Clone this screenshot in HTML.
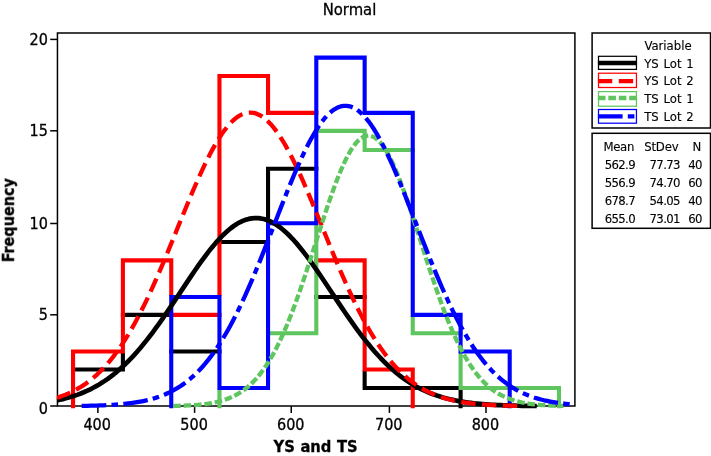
<!DOCTYPE html>
<html lang="en"><head><meta charset="utf-8"><title>Histogram of YS and TS - Normal</title>
<style>html,body{margin:0;padding:0;background:#fff;overflow:hidden}svg{display:block;will-change:transform}text{font-family:"DejaVu Sans Condensed", "DejaVu Sans", "Liberation Sans", sans-serif;font-stretch:condensed;fill:#000;stroke:#000;stroke-width:0.3px;}.l text{stroke-width:0.12px}</style>
</head><body>
<svg width="711" height="456" viewBox="0 0 711 456">
<rect x="0" y="0" width="711" height="456" fill="#ffffff"/>
<filter id="b" x="0" y="0" width="711" height="456" filterUnits="userSpaceOnUse"><feGaussianBlur stdDeviation="0.4"/></filter>
<g filter="url(#b)">
<g stroke="#000000" stroke-width="1.5" fill="none">
<rect x="57.45" y="33" width="517.45" height="373"/>
<line x1="50.2" x2="57.45" y1="406" y2="406"/>
<line x1="50.2" x2="57.45" y1="314.8" y2="314.8"/>
<line x1="50.2" x2="57.45" y1="223.5" y2="223.5"/>
<line x1="50.2" x2="57.45" y1="130.8" y2="130.8"/>
<line x1="50.2" x2="57.45" y1="39.4" y2="39.4"/>
<line x1="97.87" x2="97.87" y1="406" y2="412.9"/>
<line x1="194.6" x2="194.6" y1="406" y2="412.9"/>
<line x1="291.25" x2="291.25" y1="406" y2="412.9"/>
<line x1="389.4" x2="389.4" y1="406" y2="412.9"/>
<line x1="486" x2="486" y1="406" y2="412.9"/>
</g>
<g fill="none" stroke-width="4.1">
<path d="M71 369.5H124.95M122.9 352.55V371.55M120.85 314.9H170.2M169.2 351.5H221.5M217.4 242H270.1M268.05 166.65V222.25M266 168.7H318.35M314.25 297H366.7M364.65 370.55V390.1M362.6 388.05H414.8M410.7 388.05H459.55M460.6 389.1V408.25" stroke="#000000"/>
<path d="M73.05 349.45V408.25M71 351.5H124.95M122.9 258.35V353.55M120.85 260.4H173.3M171.25 258.35V295.95M169.2 314.9H221.5M219.45 73.95V295.95M217.4 76H270.1M268.05 73.95V114.95M266 112.9H318.35M314.25 260.4H366.7M364.65 258.35V371.55M362.6 369.5H414.8M412.75 367.45V408.25" stroke="#ff0000"/>
<path d="M219.45 389.1V408.25M266 333.3H318.35M316.3 224.35V335.35M314.25 130.9H366.7M364.65 128.85V152.05M362.6 150H414.8M412.75 315.95V335.35M410.7 333.3H462.65M460.6 352.55V390.1M458.55 388.05H511.75M507.65 388.05H561.05M559 386V408.25" stroke="#5ec55e"/>
<path d="M171.25 294.95V408.25M169.2 297H221.5M219.45 294.95V390.1M217.4 388.05H270.1M268.05 221.25V390.1M266 223.3H318.35M316.3 55.55V225.35M314.25 57.6H366.7M364.65 55.55V114.95M362.6 112.9H414.8M412.75 110.85V316.95M410.7 314.9H462.65M460.6 312.85V353.55M458.55 351.5H511.75M509.7 349.45V408.25" stroke="#0000ff"/>
</g>
<clipPath id="c"><rect x="56.75" y="33" width="518.15" height="376"/></clipPath>
<g fill="none" stroke-width="4.3" stroke-linejoin="round" clip-path="url(#c)">
<path d="M56.75 400.41 L59.75 399.78 L62.75 399.09 L65.75 398.33 L68.75 397.51 L71.75 396.62 L74.75 395.65 L77.75 394.6 L80.75 393.47 L83.75 392.25 L86.75 390.94 L89.75 389.53 L92.75 388.02 L95.75 386.41 L98.75 384.68 L101.75 382.84 L104.75 380.89 L107.75 378.81 L110.75 376.61 L113.75 374.29 L116.75 371.83 L119.75 369.25 L122.75 366.53 L125.75 363.69 L128.75 360.71 L131.75 357.59 L134.75 354.35 L137.75 350.98 L140.75 347.48 L143.75 343.86 L146.75 340.11 L149.75 336.26 L152.75 332.3 L155.75 328.23 L158.75 324.07 L161.75 319.83 L164.75 315.51 L167.75 311.12 L170.75 306.68 L173.75 302.2 L176.75 297.68 L179.75 293.15 L182.75 288.62 L185.75 284.1 L188.75 279.6 L191.75 275.14 L194.75 270.74 L197.75 266.42 L200.75 262.18 L203.75 258.05 L206.75 254.05 L209.75 250.18 L212.75 246.46 L215.75 242.92 L218.75 239.56 L221.75 236.4 L224.75 233.45 L227.75 230.72 L230.75 228.24 L233.75 226.01 L236.75 224.03 L239.75 222.33 L242.75 220.9 L245.75 219.75 L248.75 218.9 L251.75 218.34 L254.75 218.07 L257.75 218.1 L260.75 218.43 L263.75 219.05 L266.75 219.96 L269.75 221.17 L272.75 222.65 L275.75 224.41 L278.75 226.44 L281.75 228.72 L284.75 231.26 L287.75 234.03 L290.75 237.02 L293.75 240.22 L296.75 243.62 L299.75 247.2 L302.75 250.95 L305.75 254.85 L308.75 258.88 L311.75 263.03 L314.75 267.29 L317.75 271.63 L320.75 276.04 L323.75 280.51 L326.75 285.01 L329.74 289.54 L332.74 294.07 L335.74 298.6 L338.74 303.11 L341.74 307.59 L344.74 312.02 L347.74 316.39 L350.74 320.69 L353.74 324.92 L356.74 329.06 L359.74 333.11 L362.74 337.05 L365.74 340.88 L368.74 344.6 L371.74 348.2 L374.74 351.67 L377.74 355.02 L380.74 358.24 L383.74 361.32 L386.74 364.28 L389.74 367.1 L392.74 369.78 L395.74 372.34 L398.74 374.77 L401.74 377.07 L404.74 379.24 L407.74 381.29 L410.74 383.23 L413.74 385.04 L416.74 386.74 L419.74 388.34 L422.74 389.83 L425.74 391.21 L428.74 392.51 L431.74 393.71 L434.74 394.82 L437.74 395.85 L440.74 396.8 L443.74 397.68 L446.74 398.49 L449.74 399.23 L452.74 399.91 L455.74 400.54 L458.74 401.11 L461.74 401.63 L464.74 402.1 L467.74 402.53 L470.74 402.92 L473.74 403.27 L476.74 403.59 L479.74 403.88 L482.74 404.14 L485.74 404.37 L488.74 404.58 L491.74 404.77 L494.74 404.94 L497.74 405.09 L500.74 405.22 L503.74 405.34 L506.74 405.45 L509.74 405.54 L512.74 405.62 L515.74 405.7 L518.74 405.76 L521.74 405.82 L524.74 405.87 L527.74 405.91 L530.74 405.95 L533.74 405.98 L536.74 406.01" stroke="#000000" stroke-width="4.7"/>
<path d="M56.75 397.79 L59.65 396.85 L62.54 395.83 L65.44 394.71 L68.33 393.49 L71.23 392.16 L74.12 390.72 L77.02 389.16 L79.91 387.47 L82.81 385.65 L85.7 383.69 L88.6 381.58 L91.49 379.31 L94.39 376.88 L97.28 374.29 L100.18 371.51 L103.07 368.56 L105.97 365.42 L108.86 362.09 L111.76 358.56 L114.65 354.84 L117.55 350.91 L120.44 346.77 L123.34 342.43 L126.23 337.88 L129.13 333.11 L132.02 328.15 L134.92 322.97 L137.81 317.6 L140.71 312.03 L143.6 306.26 L146.5 300.32 L149.39 294.19 L152.29 287.91 L155.18 281.46 L158.08 274.88 L160.97 268.17 L163.87 261.35 L166.76 254.43 L169.66 247.43 L172.55 240.38 L175.45 233.29 L178.34 226.18 L181.24 219.08 L184.14 212.01 L187.03 204.99 L189.93 198.05 L192.82 191.21 L195.72 184.51 L198.61 177.95 L201.51 171.58 L204.4 165.41 L207.3 159.48 L210.19 153.79 L213.09 148.39 L215.98 143.3 L218.88 138.53 L221.77 134.1 L224.67 130.05 L227.56 126.38 L230.46 123.11 L233.35 120.26 L236.25 117.84 L239.14 115.86 L242.04 114.34 L244.93 113.27 L247.83 112.67 L250.72 112.53 L253.62 112.86 L256.51 113.66 L259.41 114.92 L262.3 116.64 L265.2 118.8 L268.09 121.4 L270.99 124.43 L273.88 127.87 L276.78 131.7 L279.67 135.92 L282.57 140.49 L285.46 145.4 L288.36 150.62 L291.25 156.15 L294.15 161.94 L297.04 167.97 L299.94 174.23 L302.83 180.68 L305.73 187.3 L308.63 194.07 L311.52 200.95 L314.42 207.93 L317.31 214.97 L320.21 222.06 L323.1 229.16 L326 236.27 L328.89 243.35 L331.79 250.38 L334.68 257.34 L337.58 264.22 L340.47 271 L343.37 277.66 L346.26 284.18 L349.16 290.56 L352.05 296.78 L354.95 302.83 L357.84 308.7 L360.74 314.39 L363.63 319.88 L366.53 325.17 L369.42 330.26 L372.32 335.14 L375.21 339.81 L378.11 344.28 L381 348.53 L383.9 352.58 L386.79 356.43 L389.69 360.07 L392.58 363.51 L395.48 366.76 L398.37 369.82 L401.27 372.7 L404.16 375.4 L407.06 377.92 L409.95 380.28 L412.85 382.48 L415.74 384.53 L418.64 386.43 L421.53 388.2 L424.43 389.83 L427.32 391.34 L430.22 392.73 L433.12 394.01 L436.01 395.19 L438.91 396.27 L441.8 397.25 L444.7 398.16 L447.59 398.98 L450.49 399.73 L453.38 400.41 L456.28 401.02 L459.17 401.58 L462.07 402.09 L464.96 402.54 L467.86 402.95 L470.75 403.32 L473.65 403.65 L476.54 403.95 L479.44 404.21 L482.33 404.45 L485.23 404.66 L488.12 404.85 L491.02 405.02 L493.91 405.16 L496.81 405.3 L499.7 405.41 L502.6 405.51 L505.49 405.6 L508.39 405.68 L511.28 405.75 L514.18 405.81 L517.07 405.86 L519.97 405.91" stroke="#ff0000" stroke-dasharray="14.35 6.53"/>
<path d="M173.14 405.93 L175.58 405.88 L178.02 405.82 L180.46 405.75 L182.9 405.67 L185.34 405.58 L187.78 405.47 L190.23 405.35 L192.67 405.2 L195.11 405.04 L197.55 404.85 L199.99 404.63 L202.43 404.38 L204.87 404.09 L207.31 403.76 L209.75 403.39 L212.19 402.97 L214.63 402.5 L217.07 401.96 L219.51 401.36 L221.95 400.68 L224.39 399.92 L226.84 399.07 L229.28 398.13 L231.72 397.08 L234.16 395.92 L236.6 394.63 L239.04 393.22 L241.48 391.66 L243.92 389.94 L246.36 388.07 L248.8 386.02 L251.24 383.79 L253.68 381.36 L256.12 378.73 L258.56 375.89 L261.01 372.83 L263.45 369.54 L265.89 366.02 L268.33 362.24 L270.77 358.22 L273.21 353.94 L275.65 349.4 L278.09 344.61 L280.53 339.55 L282.97 334.23 L285.41 328.66 L287.85 322.83 L290.29 316.76 L292.73 310.46 L295.17 303.93 L297.62 297.2 L300.06 290.27 L302.5 283.17 L304.94 275.91 L307.38 268.53 L309.82 261.04 L312.26 253.47 L314.7 245.85 L317.14 238.22 L319.58 230.61 L322.02 223.05 L324.46 215.57 L326.9 208.22 L329.34 201.03 L331.79 194.04 L334.23 187.28 L336.67 180.8 L339.11 174.62 L341.55 168.79 L343.99 163.34 L346.43 158.3 L348.87 153.7 L351.31 149.57 L353.75 145.94 L356.19 142.83 L358.63 140.25 L361.07 138.23 L363.51 136.78 L365.95 135.91 L368.4 135.61 L370.84 135.91 L373.28 136.78 L375.72 138.23 L378.16 140.25 L380.6 142.83 L383.04 145.94 L385.48 149.57 L387.92 153.7 L390.36 158.3 L392.8 163.34 L395.24 168.79 L397.68 174.62 L400.12 180.8 L402.57 187.28 L405.01 194.04 L407.45 201.03 L409.89 208.22 L412.33 215.57 L414.77 223.05 L417.21 230.61 L419.65 238.22 L422.09 245.85 L424.53 253.47 L426.97 261.04 L429.41 268.53 L431.85 275.91 L434.29 283.17 L436.73 290.27 L439.18 297.2 L441.62 303.93 L444.06 310.46 L446.5 316.76 L448.94 322.83 L451.38 328.66 L453.82 334.23 L456.26 339.55 L458.7 344.61 L461.14 349.4 L463.58 353.94 L466.02 358.22 L468.46 362.24 L470.9 366.02 L473.35 369.54 L475.79 372.83 L478.23 375.89 L480.67 378.73 L483.11 381.36 L485.55 383.79 L487.99 386.02 L490.43 388.07 L492.87 389.94 L495.31 391.66 L497.75 393.22 L500.19 394.63 L502.63 395.92 L505.07 397.08 L507.51 398.13 L509.96 399.07 L512.4 399.92 L514.84 400.68 L517.28 401.36 L519.72 401.96 L522.16 402.5 L524.6 402.97 L527.04 403.39 L529.48 403.76 L531.92 404.09 L534.36 404.38 L536.8 404.63 L539.24 404.85 L541.68 405.04 L544.13 405.2 L546.57 405.35 L549.01 405.47 L551.45 405.58 L553.89 405.67 L556.33 405.75 L558.77 405.82 L561.21 405.88 L563.65 405.93" stroke="#5ec55e" stroke-dasharray="7.6 2.84"/>
<path d="M81.63 405.9 L84.72 405.85 L87.8 405.79 L90.88 405.72 L93.96 405.64 L97.05 405.55 L100.13 405.44 L103.21 405.32 L106.3 405.18 L109.38 405.02 L112.46 404.84 L115.54 404.63 L118.63 404.39 L121.71 404.13 L124.79 403.82 L127.88 403.48 L130.96 403.1 L134.04 402.66 L137.13 402.18 L140.21 401.64 L143.29 401.03 L146.37 400.35 L149.46 399.6 L152.54 398.76 L155.62 397.84 L158.71 396.81 L161.79 395.69 L164.87 394.44 L167.95 393.08 L171.04 391.59 L174.12 389.95 L177.2 388.17 L180.29 386.23 L183.37 384.12 L186.45 381.84 L189.53 379.37 L192.62 376.71 L195.7 373.84 L198.78 370.76 L201.87 367.47 L204.95 363.94 L208.03 360.18 L211.12 356.19 L214.2 351.95 L217.28 347.46 L220.36 342.72 L223.45 337.72 L226.53 332.47 L229.61 326.97 L232.7 321.23 L235.78 315.23 L238.86 309 L241.94 302.53 L245.03 295.85 L248.11 288.95 L251.19 281.87 L254.28 274.6 L257.36 267.16 L260.44 259.59 L263.52 251.9 L266.61 244.11 L269.69 236.25 L272.77 228.34 L275.86 220.41 L278.94 212.5 L282.02 204.64 L285.11 196.85 L288.19 189.17 L291.27 181.64 L294.35 174.28 L297.44 167.13 L300.52 160.23 L303.6 153.61 L306.69 147.3 L309.77 141.33 L312.85 135.74 L315.93 130.55 L319.02 125.79 L322.1 121.49 L325.18 117.67 L328.27 114.35 L331.35 111.55 L334.43 109.28 L337.51 107.57 L340.6 106.41 L343.68 105.81 L346.76 105.78 L349.85 106.32 L352.93 107.42 L356.01 109.08 L359.1 111.29 L362.18 114.04 L365.26 117.31 L368.34 121.08 L371.43 125.33 L374.51 130.04 L377.59 135.19 L380.68 140.74 L383.76 146.67 L386.84 152.95 L389.92 159.54 L393.01 166.41 L396.09 173.54 L399.17 180.87 L402.26 188.39 L405.34 196.06 L408.42 203.84 L411.51 211.7 L414.59 219.6 L417.67 227.53 L420.75 235.44 L423.84 243.3 L426.92 251.1 L430 258.81 L433.09 266.39 L436.17 273.84 L439.25 281.13 L442.33 288.24 L445.42 295.15 L448.5 301.86 L451.58 308.34 L454.67 314.6 L457.75 320.62 L460.83 326.4 L463.91 331.92 L467 337.19 L470.08 342.21 L473.16 346.98 L476.25 351.5 L479.33 355.76 L482.41 359.79 L485.5 363.57 L488.58 367.11 L491.66 370.43 L494.74 373.53 L497.83 376.42 L500.91 379.11 L503.99 381.59 L507.08 383.9 L510.16 386.02 L513.24 387.98 L516.32 389.78 L519.41 391.42 L522.49 392.93 L525.57 394.31 L528.66 395.56 L531.74 396.7 L534.82 397.74 L537.9 398.67 L540.99 399.52 L544.07 400.28 L547.15 400.96 L550.24 401.58 L553.32 402.13 L556.4 402.62 L559.49 403.06 L562.57 403.44 L565.65 403.79 L568.73 404.1 L571.82 404.37 L574.9 404.61" stroke="#0000ff" stroke-dasharray="24.7 5.2 6.6 5.26"/>
</g>
<g>
<text x="47.9" y="413.55" font-size="16" text-anchor="end">0</text>
<text x="47.9" y="320.45" font-size="16" text-anchor="end">5</text>
<text x="47.9" y="228.85" font-size="16" text-anchor="end">10</text>
<text x="47.9" y="136.45" font-size="16" text-anchor="end">15</text>
<text x="47.9" y="45.05" font-size="16" text-anchor="end">20</text>
<text x="97.2" y="430.1" font-size="16" text-anchor="middle">400</text>
<text x="194.05" y="430.1" font-size="16" text-anchor="middle">500</text>
<text x="290.75" y="430.1" font-size="16" text-anchor="middle">600</text>
<text x="388.75" y="430.1" font-size="16" text-anchor="middle">700</text>
<text x="485.4" y="430.1" font-size="16" text-anchor="middle">800</text>
<text x="349.5" y="15" font-size="16.5" text-anchor="middle">Normal</text>
<text x="315.6" y="452.3" font-size="16.4" font-weight="bold" word-spacing="0.5" text-anchor="middle">YS and TS</text>
<text transform="translate(13.9 220.3) rotate(-90)" font-size="16" font-weight="bold" text-anchor="middle">Frequency</text>
</g>
<g class="l">
<rect x="592.1" y="33" width="118.4" height="95" fill="#fff" stroke="#000000" style="stroke-width:1.5px"/>
<text x="644.4" y="50.04" font-size="13">Variable</text>
<rect x="598.5" y="56.3" width="37.95" height="13.1" fill="#fff" stroke="#000000" stroke-width="1.25"/>
<line x1="597.9" x2="637.05" y1="63" y2="63" stroke="#000000" stroke-width="4.3"/>
<text x="644.2" y="67.64" font-size="13" word-spacing="1.0">YS Lot 1</text>
<rect x="598.5" y="73.2" width="37.95" height="14.3" fill="#fff" stroke="#ff0000" stroke-width="1.25"/>
<line x1="597.9" x2="637.05" y1="81.1" y2="81.1" stroke="#ff0000" stroke-width="4.3" stroke-dasharray="14.35 6.53"/>
<text x="644.2" y="85.34" font-size="13" word-spacing="1.0">YS Lot 2</text>
<rect x="598.5" y="91.6" width="37.95" height="14.6" fill="#fff" stroke="#5ec55e" stroke-width="1.25"/>
<line x1="597.9" x2="637.05" y1="98" y2="98" stroke="#5ec55e" stroke-width="4.3" stroke-dasharray="7.6 2.84"/>
<text x="644.2" y="103.14" font-size="13" word-spacing="1.0">TS Lot 1</text>
<rect x="598.5" y="109.5" width="37.95" height="13.7" fill="#fff" stroke="#0000ff" stroke-width="1.25"/>
<line x1="597.9" x2="637.05" y1="116.4" y2="116.4" stroke="#0000ff" stroke-width="4.3" stroke-dasharray="24.7 5.2 6.6 5.26"/>
<text x="644.2" y="120.84" font-size="13" word-spacing="1.0">TS Lot 2</text>
<rect x="592.1" y="133.3" width="118.4" height="95" fill="#fff" stroke="#000000" style="stroke-width:1.5px"/>
<text x="634.1" y="150.94" font-size="13" text-anchor="end" letter-spacing="-0.3">Mean</text>
<text x="678.4" y="150.94" font-size="13" text-anchor="end" letter-spacing="-0.2">StDev</text>
<text x="701.2" y="150.94" font-size="13" text-anchor="end">N</text>
<text x="635.0" y="169.04" font-size="13" text-anchor="end" letter-spacing="-0.62">562.9</text>
<text x="679.9" y="169.04" font-size="13" text-anchor="end" letter-spacing="-0.62">77.73</text>
<text x="701.8" y="169.04" font-size="13" text-anchor="end" letter-spacing="-0.62">40</text>
<text x="635.0" y="187.14" font-size="13" text-anchor="end" letter-spacing="-0.62">556.9</text>
<text x="679.9" y="187.14" font-size="13" text-anchor="end" letter-spacing="-0.62">74.70</text>
<text x="701.8" y="187.14" font-size="13" text-anchor="end" letter-spacing="-0.62">60</text>
<text x="635.0" y="205.24" font-size="13" text-anchor="end" letter-spacing="-0.62">678.7</text>
<text x="679.9" y="205.24" font-size="13" text-anchor="end" letter-spacing="-0.62">54.05</text>
<text x="701.8" y="205.24" font-size="13" text-anchor="end" letter-spacing="-0.62">40</text>
<text x="635.0" y="223.44" font-size="13" text-anchor="end" letter-spacing="-0.62">655.0</text>
<text x="679.9" y="223.44" font-size="13" text-anchor="end" letter-spacing="-0.62">73.01</text>
<text x="701.8" y="223.44" font-size="13" text-anchor="end" letter-spacing="-0.62">60</text>
</g>
</g>
</svg>
</body></html>
